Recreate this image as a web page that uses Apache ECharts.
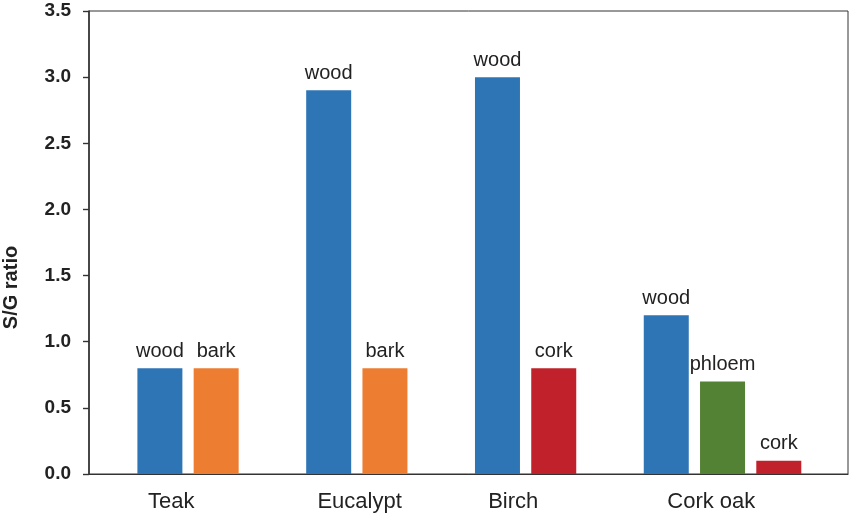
<!DOCTYPE html>
<html>
<head>
<meta charset="utf-8">
<script src="https://cdn.jsdelivr.net/npm/echarts@6/dist/echarts.min.js"></script>
<style>html,body{margin:0;padding:0;background:#fff}#c{width:850px;height:516px}</style>
</head>
<body>
<div id="c"></div>
<script>
// Data
const species = ['Teak', 'Eucalypt', 'Birch', 'Cork oak'];
const tissues = ['wood', 'bark', 'wood', 'bark', 'wood', 'cork', 'wood', 'phloem', 'cork'];
const ratios = [0.8, 0.8, 2.9, 0.8, 3.0, 0.8, 1.2, 0.7, 0.1];
const slots = [0, 1, 3, 4, 6, 7, 9, 10, 11];
const yTicks = ['0.0', '0.5', '1.0', '1.5', '2.0', '2.5', '3.0', '3.5'];

// Layout (label anchor positions on the slot axis)
const speciesLabelAt = [0.2, 3.55, 6.28, 9.8];
const tissueColors = { wood: '#2e75b6', bark: '#ed7d31', cork: '#c0212a', phloem: '#548235' };

const chart = echarts.init(document.getElementById('c'), null, { renderer: 'canvas' });
const font = 'Liberation Sans, Arial, Helvetica, sans-serif';

chart.setOption({
  animation: false,
  backgroundColor: '#fff',
  grid: { left: 89, right: 2, top: 11, bottom: 42, show: true, borderColor: '#333', borderWidth: 1, containLabel: false, outerBoundsMode: 'none' },
  xAxis: {
    type: 'value',
    min: -1.26,
    max: 12.23,
    splitLine: { show: false },
    axisLine: { show: true, onZero: false, lineStyle: { color: '#333', width: 1.2 } },
    axisTick: { show: false },
    axisLabel: {
      customValues: speciesLabelAt,
      formatter: v => { const i = speciesLabelAt.indexOf(v); return i >= 0 ? species[i] : ''; },
      fontFamily: font, fontSize: 22, color: '#222', margin: 17,
      showMinLabel: true, showMaxLabel: true
    }
  },
  yAxis: {
    type: 'value',
    min: 0,
    max: 3.5,
    interval: 0.5,
    name: 'S/G ratio',
    nameLocation: 'middle',
    nameGap: 68,
    nameRotate: 90,
    nameTextStyle: { fontFamily: font, fontSize: 20, fontWeight: 'bold', color: '#222', padding: [0, 90, 0, 0] },
    splitLine: { show: false },
    axisLine: { show: true, onZero: false, lineStyle: { color: '#333', width: 1.6 } },
    axisTick: { show: true, inside: false, length: 6, lineStyle: { color: '#333', width: 1.4 } },
    axisLabel: {
      formatter: v => yTicks[Math.round(v * 2)],
      fontFamily: font, fontSize: 19, fontWeight: 'bold', color: '#222', margin: 18
    }
  },
  series: [{
    type: 'bar',
    barWidth: 45,
    data: ratios.map((r, i) => ({
      value: [slots[i], r],
      itemStyle: { color: tissueColors[tissues[i]] },
      label: { formatter: tissues[i] }
    })),
    label: {
      show: true, position: 'top', distance: 7,
      fontFamily: font, fontSize: 20, color: '#222'
    }
  }]
});
</script>
</body>
</html>
